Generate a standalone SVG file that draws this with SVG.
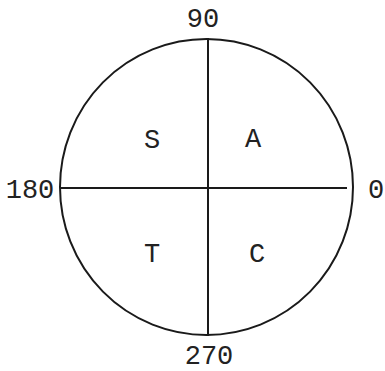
<svg xmlns="http://www.w3.org/2000/svg" width="385" height="371" viewBox="0 0 385 371">
<style>
.ln{stroke:#1a1a1a;stroke-width:2;fill:none}
.lb{font-family:"Liberation Mono","Courier New",monospace;font-size:27px;fill:#222}
</style>
<rect width="385" height="371" fill="#fff"/>
<g id="circle"><ellipse class="ln" cx="206.5" cy="187" rx="146.5" ry="148"/></g>
<g id="connectors">
<line class="ln" x1="208" y1="38" x2="208" y2="336"/>
<line class="ln" x1="60" y1="188" x2="347" y2="188"/>
</g>
<g id="labels" class="lb">
<text id="l90" x="203" y="27" text-anchor="middle">90</text>
<text id="l180" x="30" y="198" text-anchor="middle">180</text>
<text id="l0" x="376" y="198" text-anchor="middle">0</text>
<text id="l270" x="209" y="364" text-anchor="middle">270</text>
<text id="S" x="152" y="148" text-anchor="middle">S</text>
<text id="A" x="253" y="147" text-anchor="middle">A</text>
<text id="T" x="152" y="262" text-anchor="middle">T</text>
<text id="C" x="257" y="262" text-anchor="middle">C</text>
</g>
</svg>
